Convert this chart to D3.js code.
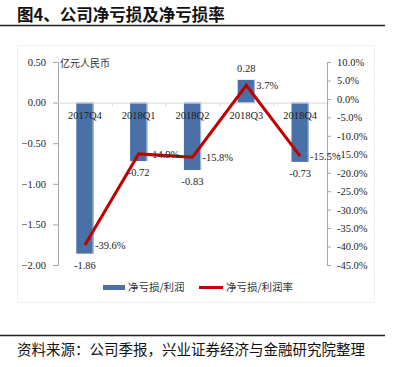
<!DOCTYPE html>
<html><head><meta charset="utf-8">
<script src="https://cdn.jsdelivr.net/npm/d3@7"></script>
<style>body{margin:0;background:#fff}svg{display:block}</style>
</head><body><svg id="c" width="394" height="367"></svg>
<script>
const categories = ["2017Q4","2018Q1","2018Q2","2018Q3","2018Q4"];
const netLoss = [-1.86,-0.72,-0.83,0.28,-0.73];
const lossRate = [-39.6,-14.9,-15.8,3.7,-15.5];
const leftTicks = [0.5,0,-0.5,-1,-1.5,-2];
const rightTicks = [10,5,0,-5,-10,-15,-20,-25,-30,-35,-40,-45];
const title = "图4、公司净亏损及净亏损率";
const unitLabel = "亿元人民币";
const legendLabels = ["净亏损/利润","净亏损/利润率"];
const source = "资料来源：公司季报，兴业证券经济与金融研究院整理";

const serif = "'Liberation Serif','Times New Roman',serif";
const cjk = "'Noto Sans CJK SC','Noto Sans',sans-serif";
const svg = d3.select("#c");
const L = 58, R = 327, T = 62, B = 265;
const barColor = "#4a70a8", lineColor = "#c00000", axisColor = "#a6a6a6";

// title
svg.append("text").attr("x",17).attr("y",21).attr("font-family",cjk).attr("font-weight","bold")
  .attr("font-size",16.5).attr("fill","#111").text(title);
svg.append("line").attr("x1",0).attr("x2",385).attr("y1",25.5).attr("y2",25.5).attr("stroke","#222").attr("stroke-width",1.6);

// faint chart border
svg.append("rect").attr("x",17.5).attr("y",45.5).attr("width",357).attr("height",257)
  .attr("fill","none").attr("stroke","#f0f0f0");

const x = d3.scaleBand().domain(categories).range([L,R]).paddingInner(0.68).paddingOuter(0.34);
const y = d3.scaleLinear().domain([-2,0.5]).range([B,T]);
const y2 = d3.scaleLinear().domain([-45,10]).range([B,T]);

// left axis
const la = svg.append("g").attr("transform",`translate(${L},0)`)
  .call(d3.axisLeft(y).tickValues(leftTicks).tickSize(5).tickPadding(7).tickFormat(d3.format(".2f")));
la.selectAll("path,line").attr("stroke",axisColor);
la.selectAll("text").attr("font-family",serif).attr("font-size",10.5).attr("fill","#222");
la.select(".domain").attr("d",`M-5,${T+0.5}H0.5V${B+0.5}H-5`);

// right axis
const ra = svg.append("g").attr("transform",`translate(${R},0)`)
  .call(d3.axisRight(y2).tickValues(rightTicks).tickSize(4).tickPadding(6).tickFormat(d=>d.toFixed(1)+"%"));
ra.selectAll("path,line").attr("stroke",axisColor);
ra.selectAll("text").attr("font-family",serif).attr("font-size",10.5).attr("fill","#222");

// bars
svg.append("g").selectAll("rect").data(netLoss).join("rect")
  .attr("x",(d,i)=>x(categories[i])).attr("width",x.bandwidth())
  .attr("y",d=>y(Math.max(0,d))).attr("height",d=>Math.abs(y(d)-y(0)))
  .attr("fill",barColor);
svg.append("g").selectAll("rect").data(netLoss).join("rect")
  .attr("x",(d,i)=>x(categories[i])+x.bandwidth()-1).attr("width",1)
  .attr("y",d=>y(Math.max(0,d))).attr("height",d=>Math.abs(y(d)-y(0)))
  .attr("fill","#a9c0e0");

// zero line with category boundary ticks
svg.append("line").attr("x1",L).attr("x2",R).attr("y1",y(0)+0.5).attr("y2",y(0)+0.5).attr("stroke","#d9d9d9");
const step = x.step();
svg.append("g").selectAll("line").data(categories.slice(1)).join("line")
  .attr("x1",d=>x(d)-step*x.paddingInner()/2+0.5).attr("x2",d=>x(d)-step*x.paddingInner()/2+0.5)
  .attr("y1",y(0)).attr("y2",y(0)+4).attr("stroke","#d9d9d9");

// category labels
svg.append("g").selectAll("text").data(categories).join("text")
  .attr("x",d=>x(d)+x.bandwidth()/2).attr("y",y(0)+16).attr("text-anchor","middle")
  .attr("font-family",serif).attr("font-size",10.5).attr("fill","#222").text(d=>d);

// bar value labels
svg.append("g").selectAll("text").data(netLoss).join("text")
  .attr("x",(d,i)=>x(categories[i])+x.bandwidth()/2)
  .attr("y",d=>d<0? y(d)+15 : y(d)-8).attr("text-anchor","middle")
  .attr("font-family",serif).attr("font-size",10.5).attr("fill","#222").text(d=>d.toFixed(2));

// line
const cx = (i)=>x(categories[i])+x.bandwidth()/2;
svg.append("path").datum(lossRate)
  .attr("d",d3.line().x((d,i)=>cx(i)).y(d=>y2(d)))
  .attr("fill","none").attr("stroke",lineColor).attr("stroke-width",3).attr("stroke-linejoin","miter");
svg.append("g").selectAll("text").data(lossRate).join("text")
  .attr("x",(d,i)=>cx(i)+10).attr("y",d=>y2(d)+4)
  .attr("font-family",serif).attr("font-size",10.5).attr("fill","#222").text(d=>d.toFixed(1)+"%");

// unit label
svg.append("text").attr("x",60).attr("y",67).attr("font-family",cjk).attr("font-size",10)
  .attr("fill","#333").text(unitLabel);

// legend
svg.append("rect").attr("x",103).attr("y",285).attr("width",22).attr("height",5).attr("fill",barColor);
svg.append("text").attr("x",128).attr("y",291).attr("font-family",cjk).attr("font-size",10.5).attr("fill","#333").text(legendLabels[0]);
svg.append("line").attr("x1",199).attr("x2",223).attr("y1",287.5).attr("y2",287.5).attr("stroke",lineColor).attr("stroke-width",3);
svg.append("text").attr("x",226).attr("y",291).attr("font-family",cjk).attr("font-size",10.5).attr("fill","#333").text(legendLabels[1]);

// source
svg.append("line").attr("x1",0).attr("x2",385).attr("y1",335.5).attr("y2",335.5).attr("stroke","#222").attr("stroke-width",1.6);
svg.append("text").attr("x",17).attr("y",355).attr("font-family",cjk).attr("font-size",14.5)
  .attr("fill","#111").text(source);
</script></body></html>
